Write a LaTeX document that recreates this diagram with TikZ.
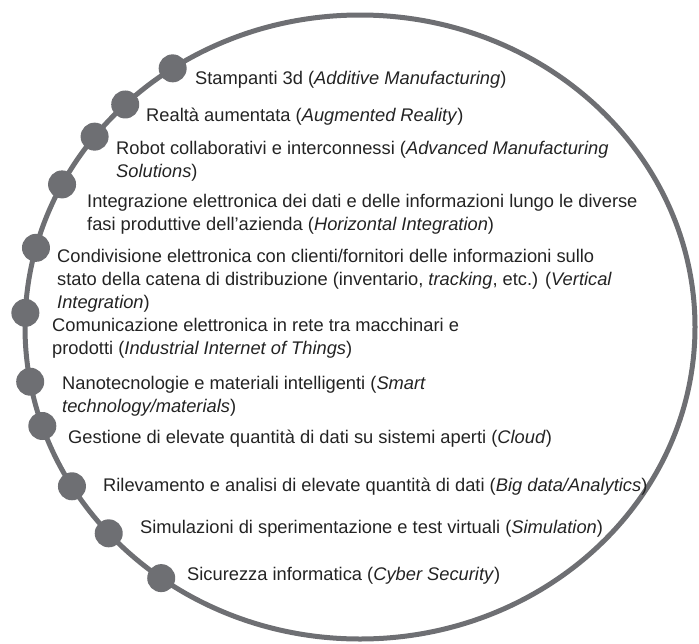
\documentclass[tikz,border=0pt]{standalone}
\usepackage{fontspec}
\setmainfont{Liberation Sans}
\usepackage{tikz}
\definecolor{ringgray}{RGB}{110,111,115}
\definecolor{itemtext}{RGB}{35,35,35}
\tikzstyle{ringdot} = [circle, fill=ringgray, minimum size=28pt, inner sep=0pt]
\tikzstyle{item} = [anchor=base west, align=left, inner sep=0pt, text=itemtext, font=\fontsize{18.3}{23}\selectfont]

\begin{document}
\begin{tikzpicture}[x=1pt,y=-1pt]
\useasboundingbox (0,0) rectangle (699,643);
\coordinate (ctr) at (360,327);
\draw [ringgray, line width=5pt] (ctr) ellipse [x radius=335, y radius=312];

% dots along the ring
\foreach \a [count=\i] in {-124,-134.5,-142.4,-152.8,-165.3,-177.4,169.9,161.5,149.3,138.6,126.4}
  \node (dot\i) [ringdot] at ([shift={(\a:335 and 312)}]ctr) {};

% items (base = baseline of last line)
\node (stampanti) [item] at (195,84) {Stampanti 3d (\textit{Additive Manufacturing})};
\node (realta) [item] at (146,121) {Realtà aumentata (\textit{Augmented Reality})};
\node (robot) [item] at (116,177) {Robot collaborativi e interconnessi (\textit{Advanced Manufacturing}\\\textit{Solutions})};
\node (orizzontale) [item] at (87,230) {Integrazione elettronica dei dati e delle informazioni lungo le diverse\\fasi produttive dell’azienda (\textit{Horizontal Integration})};
\node (verticale) [item] at (57,308) {Condivisione elettronica con clienti/fornitori delle informazioni sullo\\stato della catena di distribuzione (inventario, \textit{tracking}, etc.) (\textit{Vertical}\\\textit{Integration})};
\node (iot) [item] at (52,354) {Comunicazione elettronica in rete tra macchinari e\\prodotti (\textit{Industrial Internet of Things})};
\node (nano) [item] at (62,412) {Nanotecnologie e materiali intelligenti (\textit{Smart}\\\textit{technology/materials})};
\node (cloud) [item] at (68,443) {Gestione di elevate quantità di dati su sistemi aperti (\textit{Cloud})};
\node (bigdata) [item] at (103,491) {Rilevamento e analisi di elevate quantità di dati (\textit{Big data/Analytics})};
\node (simulazione) [item] at (140,533) {Simulazioni di sperimentazione e test virtuali (\textit{Simulation})};
\node (sicurezza) [item] at (187,580) {Sicurezza informatica (\textit{Cyber Security})};
\end{tikzpicture}
\end{document}
